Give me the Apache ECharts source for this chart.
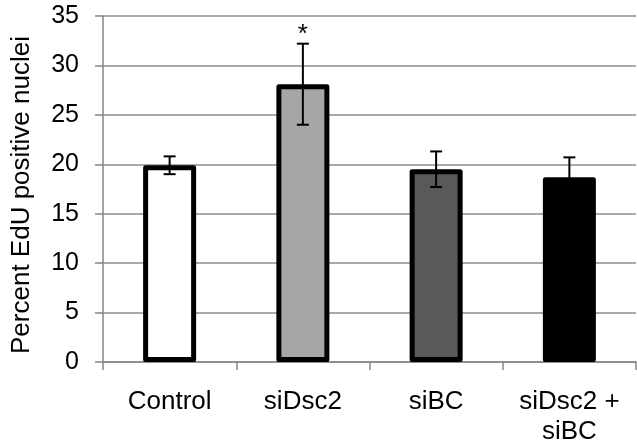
<!DOCTYPE html>
<html>
<head>
<meta charset="utf-8">
<script src="https://cdn.jsdelivr.net/npm/echarts@6/dist/echarts.min.js"></script>
<style>html,body{margin:0;padding:0;background:#fff}#c{width:637px;height:447px}</style>
</head>
<body>
<div id="c"></div>
<script>
var categories = ['Control', 'siDsc2', 'siBC', 'siDsc2 +\nsiBC'];
var means = [19.9, 28.1, 19.5, 18.7];
var errors = [0.9, 4.1, 1.8, 2.0];
var fills = ['#ffffff', '#a6a6a6', '#595959', '#000000'];
var marks = ['', '*', '', ''];
var yTicks = [0, 5, 10, 15, 20, 25, 30, 35];

var chart = echarts.init(document.getElementById('c'));
var font = 'Liberation Sans, Arial, sans-serif';
chart.setOption({
  animation: false,
  grid: { left: 103, right: 1, top: 16, bottom: 85 },
  xAxis: {
    type: 'category',
    data: categories,
    axisLine: { lineStyle: { color: '#868686', width: 1.5 } },
    axisTick: { show: true, length: 8, lineStyle: { color: '#868686', width: 1.5 } },
    axisLabel: { color: '#000', fontFamily: font, fontSize: 26, margin: 25, lineHeight: 30, interval: 0 }
  },
  yAxis: {
    type: 'value',
    min: yTicks[0],
    max: yTicks[yTicks.length - 1],
    interval: 5,
    name: 'Percent EdU positive nuclei',
    nameLocation: 'middle',
    nameGap: 68,
    nameTextStyle: { color: '#000', fontFamily: font, fontSize: 26, padding: [0, 12, 0, 0] },
    axisLine: { show: true, lineStyle: { color: '#868686', width: 1.5 } },
    axisTick: { show: true, length: 8, lineStyle: { color: '#868686', width: 1.5 } },
    splitLine: { show: true, lineStyle: { color: '#8c8c8c', width: 1.5 } },
    axisLabel: { color: '#000', fontFamily: font, fontSize: 25, margin: 24 }
  },
  series: [
    {
      type: 'bar',
      barWidth: 53,
      data: means.map(function (v, i) {
        return { value: v, itemStyle: { color: fills[i] } };
      }),
      itemStyle: { borderColor: '#000', borderWidth: 5, borderJoin: 'round' },
      z: 2
    },
    {
      type: 'custom',
      z: 5,
      data: means.map(function (v, i) { return [i, v, errors[i]]; }),
      renderItem: function (params, api) {
        var x = api.coord([api.value(0), 0])[0];
        var top = api.coord([api.value(0), api.value(1) + api.value(2)])[1];
        var bot = api.coord([api.value(0), api.value(1) - api.value(2)])[1];
        var half = 6;
        var st = { stroke: '#000', lineWidth: 2 };
        var children = [
          { type: 'line', shape: { x1: x, y1: top, x2: x, y2: bot }, style: st },
          { type: 'line', shape: { x1: x - half, y1: top, x2: x + half, y2: top }, style: st },
          { type: 'line', shape: { x1: x - half, y1: bot, x2: x + half, y2: bot }, style: st }
        ];
        var m = marks[params.dataIndex];
        if (m) {
          children.push({
            type: 'text',
            style: { text: m, x: x, y: top - 22, align: 'center', verticalAlign: 'top',
              fill: '#000', font: '26px ' + font }
          });
        }
        return { type: 'group', children: children };
      }
    }
  ]
});
</script>
</body>
</html>
